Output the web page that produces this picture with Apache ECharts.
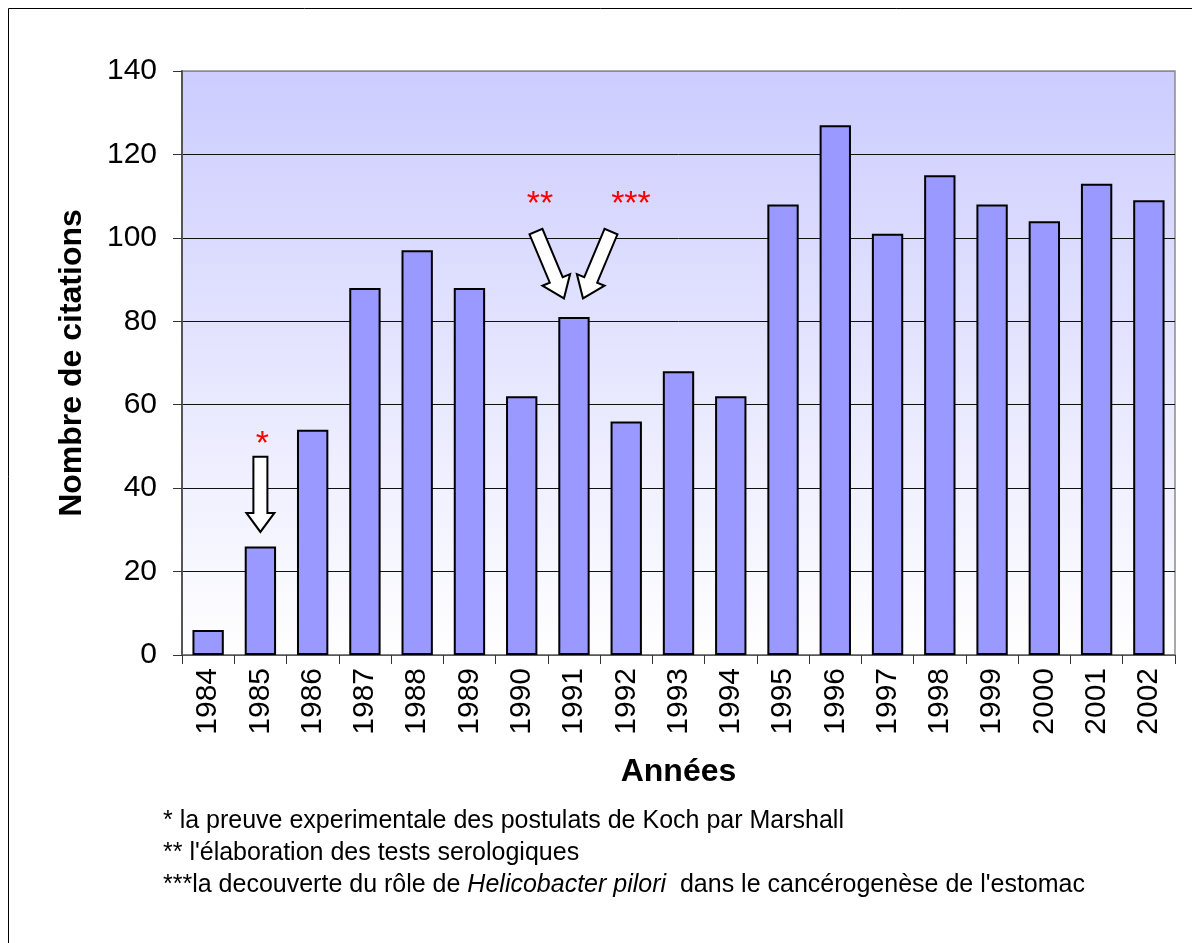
<!DOCTYPE html>
<html>
<head>
<meta charset="utf-8">
<script src="https://cdn.jsdelivr.net/npm/echarts@6/dist/echarts.min.js"></script>
<style>
html,body{margin:0;padding:0;background:#fff;}
#chart{width:1192px;height:943px;}
</style>
</head>
<body>
<div id="chart"></div>
<script>
const years = ['1984','1985','1986','1987','1988','1989','1990','1991','1992','1993','1994','1995','1996','1997','1998','1999','2000','2001','2002'];
const citations = [6,26,54,88,97,88,62,81,56,68,62,108,127,101,115,108,104,113,109];
const yTicks = [0,20,40,60,80,100,120,140];
const footnotes = [
  '* la preuve experimentale des postulats de Koch par Marshall',
  "** l'élaboration des tests serologiques"
];

const FONT = '"Liberation Sans", Arial, sans-serif';
const chart = echarts.init(document.getElementById('chart'));

const option = {
  backgroundColor: '#fff',
  animation: false,
  grid: {
    left: 182, right: 17, top: 71, bottom: 288,
    show: true,
    borderColor: '#8c8c8c', borderWidth: 1.5,
    backgroundColor: new echarts.graphic.LinearGradient(0,0,0,1,[
      {offset:0,color:'#ccccff'},{offset:1,color:'#ffffff'}
    ])
  },
  xAxis: {
    type: 'category',
    data: years,
    boundaryGap: true,
    name: 'Années',
    nameLocation: 'middle',
    nameGap: 101,
    nameTextStyle: {fontFamily: FONT, fontSize: 32, fontWeight: 'bold', color: '#000'},
    axisLine: {lineStyle: {color: '#707070', width: 1.5}},
    axisTick: {show: true, length: 9, alignWithLabel: false, lineStyle: {color: '#333'}},
    axisLabel: {rotate: 90, fontFamily: FONT, fontSize: 30, color: '#000', margin: 13, interval: 0},
    splitLine: {show: false}
  },
  yAxis: {
    type: 'value',
    min: yTicks[0], max: yTicks[yTicks.length-1], interval: 20,
    name: 'Nombre de citations',
    nameLocation: 'middle',
    nameRotate: 90,
    nameGap: 94,
    nameTextStyle: {fontFamily: FONT, fontSize: 32, fontWeight: 'bold', color: '#000'},
    axisLine: {show: true, lineStyle: {color: '#555', width: 2}},
    axisTick: {show: true, length: 9, lineStyle: {color: '#333'}},
    axisLabel: {fontFamily: FONT, fontSize: 30, color: '#000', margin: 25},
    splitLine: {show: true, lineStyle: {color: ['#111','#111','#111','#111','#111','#111','#111','#8c8c8c'], width: 1}}
  },
  series: [{
    type: 'bar',
    data: citations,
    barCategoryGap: '40%',
    itemStyle: {color: '#9999ff', borderColor: '#000', borderWidth: 2}
  }]
};
chart.setOption(option);

function arrowPoints(tail, tip, shaftW, headW, headLen) {
  const dx = tip[0]-tail[0], dy = tip[1]-tail[1];
  const L = Math.sqrt(dx*dx+dy*dy);
  const ux = dx/L, uy = dy/L, px = -uy, py = ux;
  const bx = tip[0]-ux*headLen, by = tip[1]-uy*headLen;
  const s = shaftW/2, h = headW/2;
  return [
    [tail[0]+px*s, tail[1]+py*s],
    [bx+px*s, by+py*s],
    [bx+px*h, by+py*h],
    [tip[0], tip[1]],
    [bx-px*h, by-py*h],
    [bx-px*s, by-py*s],
    [tail[0]-px*s, tail[1]-py*s]
  ];
}

function pt(cat, val, dx) {
  const p = chart.convertToPixel({xAxisIndex:0, yAxisIndex:0}, [cat, val]);
  return [p[0]+(dx||0), p[1]];
}

const a1tip = pt('1985', 29.5, 0), a1tail = pt('1985', 47.5, 0);
const a2tip = pt('1991', 85.5, -10), a2tail = pt('1991', 101.5, -38);
const a3tip = pt('1991', 85.5, 9), a3tail = pt('1991', 101.5, 37);
const s1 = pt('1985', 50.5, 2), s2 = pt('1991', 108, -34), s3 = pt('1991', 108, 57);

const arrowStyle = {fill:'#fff', stroke:'#000', lineWidth:2};
const starStyle = (t, p) => ({type:'text', x:p[0], y:p[1], style:{text:t, fill:'#ff0000', font:'34px '+FONT, textAlign:'center', textVerticalAlign:'middle'}});

chart.setOption({
  graphic: [
    {type:'rect', shape:{x:8.5, y:8.5, width:1300, height:1100}, style:{fill:'none', stroke:'#000', lineWidth:1}, silent:true, z:-1},
    {type:'polygon', shape:{points: arrowPoints(a1tail, a1tip, 14, 28, 19)}, style: arrowStyle, z:100},
    {type:'polygon', shape:{points: arrowPoints(a2tail, a2tip, 14, 30, 20)}, style: arrowStyle, z:100},
    {type:'polygon', shape:{points: arrowPoints(a3tail, a3tip, 14, 30, 20)}, style: arrowStyle, z:100},
    starStyle('*', s1), starStyle('**', s2), starStyle('***', s3),
    {type:'text', left:163, top:809, style:{text: footnotes[0], fill:'#000', font:'25px '+FONT}},
    {type:'text', left:163, top:841, style:{text: footnotes[1], fill:'#000', font:'25px '+FONT}},
    {type:'text', left:163, top:873, style:{
      text: '{n|***la decouverte du rôle de }{i|Helicobacter pilori }{n| dans le cancérogenèse de l\'estomac}',
      rich: {
        n: {fontFamily: FONT, fontSize: 25, fill:'#000', color:'#000'},
        i: {fontFamily: FONT, fontSize: 25, fontStyle:'italic', fill:'#000', color:'#000'}
      }
    }}
  ]
});
</script>
</body>
</html>
